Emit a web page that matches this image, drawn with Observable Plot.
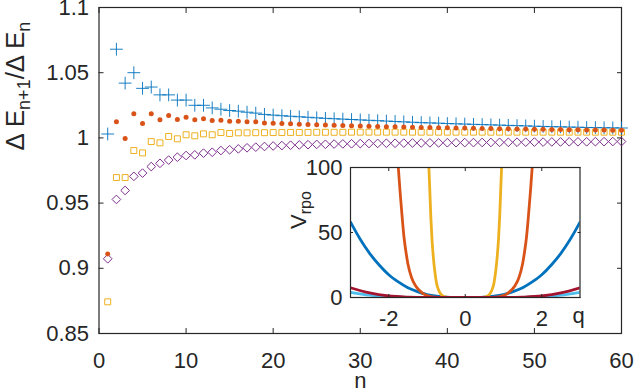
<!DOCTYPE html>
<html><head><meta charset="utf-8">
<script src="https://cdn.jsdelivr.net/npm/d3@7"></script>
<script src="https://cdn.jsdelivr.net/npm/@observablehq/plot@0.6"></script>
<style>
body{margin:0;background:#fff;}
#wrap{position:relative;width:641px;height:392px;overflow:hidden;}
#inset{position:absolute;left:290px;top:150px;}
</style></head><body><div id="wrap"><div id="main"></div><div id="inset"></div></div>
<script>
const FONT = '"Liberation Sans", Arial, Helvetica, sans-serif';
const INK = "#262626";

// ---------- main chart data ----------
const nValues = d3.range(1, 61);
const xTicks = [0, 10, 20, 30, 40, 50, 60];
const yTicks = [0.85, 0.9, 0.95, 1, 1.05, 1.1];
const yTickLabels = ["0.85", "0.9", "0.95", "1", "1.05", "1.1"];

const plusSeries = [1.003, 1.068, 1.042, 1.050, 1.038, 1.039, 1.033, 1.033, 1.029, 1.029,
  1.025, 1.025, 1.023, 1.022, 1.021, 1.0205, 1.0197, 1.019, 1.018, 1.0175,
  1.017, 1.0166, 1.0162, 1.0158, 1.0154, 1.015, 1.0147, 1.0144, 1.0141, 1.0138,
  1.0135, 1.0132, 1.0129, 1.0126, 1.0123, 1.012, 1.0117, 1.0115, 1.0113, 1.011,
  1.0108, 1.0106, 1.0104, 1.0102, 1.01, 1.0098, 1.0096, 1.0094, 1.0092, 1.009,
  1.0088, 1.0086, 1.0085, 1.0083, 1.0082, 1.008, 1.0079, 1.0078, 1.0077, 1.0076];
const dotSeries = [0.911, 1.0123, 0.9995, 1.0185, 1.011, 1.0185, 1.0139, 1.0172, 1.0141, 1.0159,
  1.0139, 1.0146, 1.0133, 1.0136, 1.0128, 1.0128, 1.0123, 1.0123, 1.0115, 1.0113,
  1.0111, 1.0108, 1.0105, 1.0103, 1.0101, 1.0099, 1.0097, 1.0095, 1.0093, 1.0091,
  1.0089, 1.0088, 1.0086, 1.0085, 1.0083, 1.0082, 1.008, 1.0079, 1.0078, 1.0077,
  1.0076, 1.0075, 1.0074, 1.0073, 1.0072, 1.0071, 1.007, 1.0069, 1.0068, 1.0067,
  1.0066, 1.0065, 1.0064, 1.0063, 1.0062, 1.0061, 1.0061, 1.006, 1.0059, 1.0058];
const squareSeries = [0.8743, 0.9696, 0.9696, 0.9903, 0.9885, 0.9972, 0.9962, 1.0011, 0.9993, 1.0024,
  1.0016, 1.0031, 1.0024, 1.0041, 1.0034, 1.0039, 1.0039, 1.004, 1.004, 1.0041,
  1.0041, 1.0042, 1.0042, 1.0042, 1.0043, 1.0043, 1.0043, 1.0043, 1.0044, 1.0044,
  1.0044, 1.0044, 1.0044, 1.0044, 1.0044, 1.0044, 1.0044, 1.0044, 1.0044, 1.0044,
  1.0044, 1.0044, 1.0044, 1.0044, 1.0044, 1.0044, 1.0044, 1.0044, 1.0044, 1.0044,
  1.0044, 1.0044, 1.0044, 1.0044, 1.0044, 1.0044, 1.0044, 1.0044, 1.0044, 1.0044];
const diamondSeries = [0.9073, 0.9528, 0.9597, 0.9705, 0.973, 0.978, 0.9805, 0.983, 0.9852, 0.9865,
  0.987, 0.9883, 0.989, 0.9903, 0.9909, 0.9916, 0.9924, 0.9929, 0.9934, 0.9938,
  0.9941, 0.9944, 0.9946, 0.9948, 0.995, 0.9951, 0.9953, 0.9954, 0.9955, 0.9956,
  0.9957, 0.9958, 0.9959, 0.9959, 0.996, 0.9961, 0.9961, 0.9962, 0.9962, 0.9963,
  0.9963, 0.9964, 0.9964, 0.9965, 0.9965, 0.9966, 0.9966, 0.9967, 0.9967, 0.9968,
  0.9968, 0.9969, 0.9969, 0.997, 0.997, 0.997, 0.9971, 0.9971, 0.9972, 0.9972];

const toRows = (vals) => vals.map((v, i) => ({n: nValues[i], v}));

// ---------- inset data ----------
const qTicks = [-2, 0, 2];
const qTickLabels = ["-2", "0", "2"];
const vTicks = [0, 50, 100];
const qBlue = [-3,-2.75,-2.5,-2.25,-2,-1.75,-1.5,-1.25,-1,-0.75,-0.5,-0.25,0,0.25,0.5,0.75,1,1.25,1.5,1.75,2,2.25,2.5,2.75,3];
const vBlue = [58,45,34,25,17.5,12,7.5,4.5,2.3,1,0.3,0.05,0,0.05,0.3,1,2.3,4.5,7.5,12,17.5,25,34,45,58];
const qOrange = [-1.8,-1.75,-1.7,-1.65,-1.6,-1.55,-1.5,-1.4,-1.3,-1.2,-1.1,-1,-0.9,-0.8,-0.6,0,0.6,0.8,0.9,1,1.1,1.2,1.3,1.4,1.5,1.55,1.6,1.65,1.7,1.75,1.8];
const vOrange = [125,100,80,62,46,35,26,15,9,5.5,3,1.5,0.6,0.2,0,0,0,0.2,0.6,1.5,3,5.5,9,15,26,35,46,62,80,100,125];
const qYellow = [-0.97,-0.95,-0.93,-0.9,-0.87,-0.84,-0.8,-0.75,-0.7,-0.65,-0.6,-0.5,-0.4,0,0.4,0.5,0.6,0.65,0.7,0.75,0.8,0.84,0.87,0.9,0.93,0.95,0.97];
const vYellow = [120,100,85,62,45,33,21,11,6,3,1.5,0.3,0,0,0,0.3,1.5,3,6,11,21,33,45,62,85,100,120];
const qRed = [-3,-2.5,-2,-1.5,-1,0,1,1.5,2,2.5,3];
const vRed = [7.5,3.5,1.2,0.3,0,0,0,0.3,1.2,3.5,7.5];
const qCyan = [-3,-2.5,-2,-1.5,-1,0,1,1.5,2,2.5,3];
const vCyan = [4,1.8,0.6,0.1,0,0,0,0.1,0.6,1.8,4];
const curve = (qs, vs) => qs.map((q, i) => ({q, v: vs[i]}));

// ---------- main plot ----------
const main = Plot.plot({
  width: 641, height: 392,
  marginLeft: 98.5, marginRight: 20, marginTop: 7, marginBottom: 59,
  style: {fontFamily: FONT, fontSize: "22px", color: INK, background: "transparent", overflow: "visible"},
  x: {domain: [0, 60]},
  y: {domain: [0.85, 1.1]},
  marks: [
    Plot.frame({stroke: INK, strokeWidth: 1.2}),
    Plot.axisX(xTicks, {anchor: "bottom", tickSize: -5, tickFormat: () => "", label: null, stroke: INK}),
    Plot.axisX(xTicks, {anchor: "top", tickSize: -5, tickFormat: () => "", label: null, stroke: INK}),
    Plot.axisY(yTicks, {anchor: "left", tickSize: -5, tickFormat: () => "", label: null, stroke: INK}),
    Plot.axisY(yTicks, {anchor: "right", tickSize: -5, tickFormat: () => "", label: null, stroke: INK}),
    Plot.axisX(xTicks, {anchor: "bottom", tickSize: 0, tickPadding: 19, label: null, fill: INK}),
    Plot.axisY(yTicks, {anchor: "left", tickSize: 0, tickPadding: 10, label: null, fill: INK,
      tickFormat: (d) => yTickLabels[yTicks.indexOf(d)]}),
    Plot.text(["n"], {frameAnchor: "bottom", dy: 47, lineAnchor: "middle", fill: INK, fontSize: 22}),
    Plot.dot(toRows(squareSeries), {x: "n", y: "v", symbol: "square2", r: 3.8, stroke: "#EDB120", strokeWidth: 1, fill: "none"}),
    Plot.dot(toRows(diamondSeries), {x: "n", y: "v", symbol: "diamond2", r: 3.9, stroke: "#7E2F8E", strokeWidth: 1, fill: "none"}),
    Plot.dot(toRows(plusSeries), {x: "n", y: "v", symbol: "plus", r: 4.2, stroke: "#0072BD", strokeWidth: 0.9}),
    Plot.dot(toRows(dotSeries), {x: "n", y: "v", symbol: "circle", r: 2.5, fill: "#D95319", stroke: "none"})
  ]
});
document.getElementById("main").appendChild(main);

const ylab = d3.select(main).append("text")
  .attr("transform", "translate(24,86) rotate(-90)")
  .attr("text-anchor", "middle")
  .attr("font-family", FONT).attr("font-size", 26).attr("fill", INK);
ylab.append("tspan").text("Δ E");
ylab.append("tspan").attr("dy", 6).attr("font-size", 18).text("n+1");
ylab.append("tspan").attr("dy", -6).text("/Δ E");
ylab.append("tspan").attr("dy", 6).attr("font-size", 18).text("n");

// ---------- inset ----------
const inset = Plot.plot({
  width: 310, height: 185,
  marginLeft: 60, marginRight: 20.5, marginTop: 17, marginBottom: 38,
  style: {fontFamily: FONT, fontSize: "22px", color: INK, background: "transparent", overflow: "visible"},
  x: {domain: [-3, 3]},
  y: {domain: [0, 100]},
  marks: [
    Plot.frame({fill: "white", stroke: null}),
    Plot.line(curve(qBlue, vBlue), {x: "q", y: "v", stroke: "#0072BD", strokeWidth: 2.8, curve: "monotone-x", clip: true}),
    Plot.line(curve(qOrange, vOrange), {x: "q", y: "v", stroke: "#D95319", strokeWidth: 2.8, curve: "monotone-x", clip: true}),
    Plot.line(curve(qYellow, vYellow), {x: "q", y: "v", stroke: "#EDB120", strokeWidth: 2.8, curve: "monotone-x", clip: true}),
    Plot.line(curve(qCyan, vCyan), {x: "q", y: "v", stroke: "#4DBEEE", strokeWidth: 2.8, curve: "monotone-x", clip: true}),
    Plot.line(curve(qRed, vRed), {x: "q", y: "v", stroke: "#A2142F", strokeWidth: 2.8, curve: "monotone-x", clip: true}),
    Plot.frame({stroke: INK, strokeWidth: 1.2}),
    Plot.axisX(qTicks, {anchor: "bottom", tickSize: -3, tickFormat: () => "", label: null, stroke: INK}),
    Plot.axisX(qTicks, {anchor: "top", tickSize: -3, tickFormat: () => "", label: null, stroke: INK}),
    Plot.axisY(vTicks, {anchor: "left", tickSize: -3, tickFormat: () => "", label: null, stroke: INK}),
    Plot.axisY(vTicks, {anchor: "right", tickSize: -3, tickFormat: () => "", label: null, stroke: INK}),
    Plot.axisX(qTicks, {anchor: "bottom", tickSize: 0, tickPadding: 13, label: null, fill: INK,
      tickFormat: (d) => qTickLabels[qTicks.indexOf(d)]}),
    Plot.axisY(vTicks, {anchor: "left", tickSize: 0, tickPadding: 8, label: null, fill: INK}),
    Plot.text(["q"], {frameAnchor: "bottom-right", dx: -1.5, dy: 18, lineAnchor: "middle", textAnchor: "middle", fill: INK, fontSize: 22})
  ]
});
document.getElementById("inset").appendChild(inset);

const vlab = d3.select(inset).append("text")
  .attr("transform", "translate(16,60) rotate(-90)")
  .attr("text-anchor", "middle")
  .attr("font-family", FONT).attr("font-size", 22).attr("fill", INK);
vlab.append("tspan").text("V");
vlab.append("tspan").attr("dy", 5).attr("font-size", 16).text("rpo");
</script>
</body></html>
